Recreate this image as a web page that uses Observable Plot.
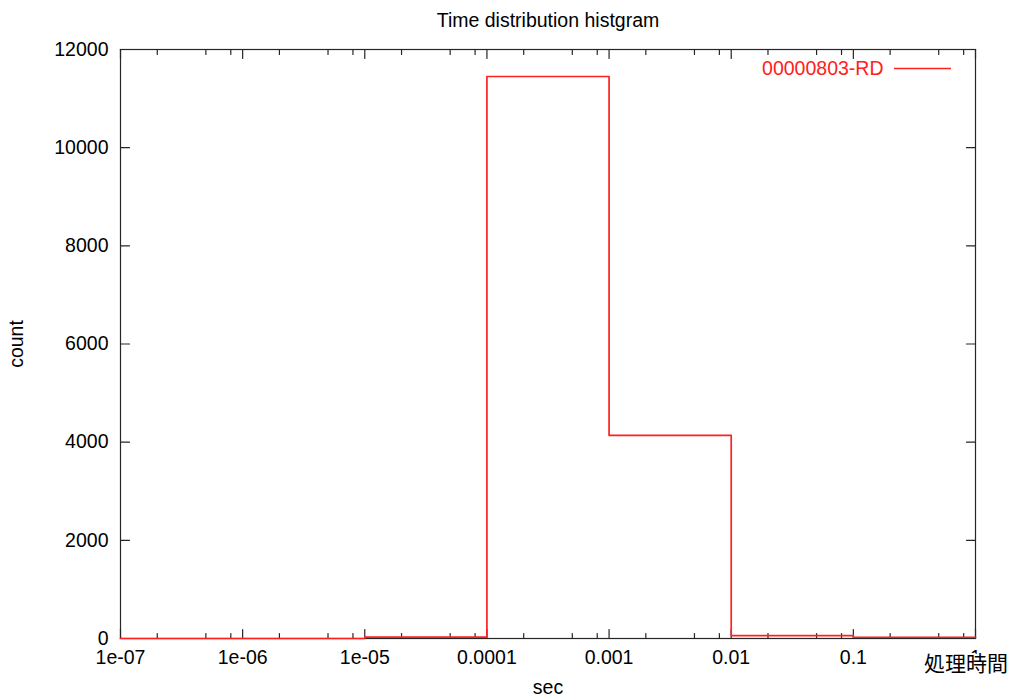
<!DOCTYPE html>
<html>
<head>
<meta charset="utf-8">
<script src="https://cdn.jsdelivr.net/npm/d3@7"></script>
<script src="https://cdn.jsdelivr.net/npm/@observablehq/plot@0.6"></script>
<style>
  html, body { margin: 0; padding: 0; background: #fff; }
  #chart { width: 1010px; height: 698px; }
</style>
</head>
<body>
<div id="chart"></div>
<script>
// ---- data ----
const binEdges = [1e-7, 1e-6, 1e-5, 1e-4, 1e-3, 1e-2, 1e-1, 1];
const binCounts = [0, 0, 30, 11450, 4140, 60, 25];
const seriesName = "00000803-RD";

const xTicks = [1e-7, 1e-6, 1e-5, 1e-4, 1e-3, 1e-2, 1e-1, 1];
const xTickLabels = ["1e-07", "1e-06", "1e-05", "0.0001", "0.001", "0.01", "0.1", "1"];
const xMinorMultipliers = [2, 5, 8];
const yTicks = [0, 2000, 4000, 6000, 8000, 10000, 12000];

const titleText = "Time distribution histgram";
const xLabelText = "sec";
const yLabelText = "count";
const cornerText = "処理時間";

// ---- derived ----
const stepData = binEdges.map((e, i) => ({x: e, y: binCounts[Math.min(i, binCounts.length - 1)]}));
const xMinor = [];
for (let i = 0; i < xTicks.length - 1; i++) for (const m of xMinorMultipliers) xMinor.push(xTicks[i] * m);

const tickShape = {draw(ctx, l) { ctx.moveTo(0, 0); ctx.lineTo(0, -l); }};
const axisColor = "#262626";
const lineRed = "#ff2020";
const FS = 19.5;

function ticks(data, ch, anchor, rot, len) {
  return Plot.vector(data, {[ch]: d => d, frameAnchor: anchor, rotate: rot, length: len,
    anchor: "start", shape: tickShape, stroke: axisColor, strokeWidth: 1.2});
}

const chart = Plot.plot({
  width: 1010,
  height: 698,
  marginLeft: 120,
  marginRight: 35,
  marginTop: 49,
  marginBottom: 60,
  style: {fontFamily: "'Liberation Sans', Arial, sans-serif", fontSize: FS + "px", background: "white", color: "black"},
  x: {type: "log", domain: [1e-7, 1]},
  y: {domain: [0, 12000]},
  marks: [
    Plot.frame({stroke: axisColor, strokeWidth: 1.2}),
    // major / minor ticks, mirrored
    ticks(xTicks, "x", "bottom", 0, 9),
    ticks(xTicks, "x", "top", 180, 9),
    ticks(xMinor, "x", "bottom", 0, 5),
    ticks(xMinor, "x", "top", 180, 5),
    ticks(yTicks, "y", "left", 90, 9),
    ticks(yTicks, "y", "right", -90, 9),
    Plot.axisX({ticks: xTicks, tickSize: 0, tickPadding: 12, label: null, fontSize: FS,
      tickFormat: d => xTickLabels[xTicks.indexOf(d)]}),
    Plot.axisY({ticks: yTicks, tickSize: 0, tickPadding: 12, label: null, fontSize: FS,
      tickFormat: d => String(d)}),
    Plot.line(stepData, {x: "x", y: "y", curve: "step-after", stroke: lineRed, strokeWidth: 1.7}),
    Plot.text([titleText], {frameAnchor: "top", dy: -29, lineAnchor: "middle", textAnchor: "middle", fontSize: FS, fill: "black"}),
    Plot.text([xLabelText], {frameAnchor: "bottom", dy: 49, lineAnchor: "middle", textAnchor: "middle", fontSize: FS, fill: "black"}),
    Plot.text([yLabelText], {frameAnchor: "left", dx: -104, rotate: -90, lineAnchor: "middle", textAnchor: "middle", fontSize: FS, fill: "black"}),
    Plot.text([seriesName], {frameAnchor: "top-right", dx: -92, dy: 19, lineAnchor: "middle", textAnchor: "end", fontSize: FS, fill: lineRed})
  ]
});

// legend sample line and corner caption
const svg = d3.select(chart);
svg.append("line")
  .attr("x1", 894).attr("x2", 951).attr("y1", 68.5).attr("y2", 68.5)
  .attr("stroke", lineRed).attr("stroke-width", 1.7);
svg.append("text")
  .attr("x", 1008).attr("y", 671)
  .attr("text-anchor", "end")
  .attr("font-family", "'Noto Sans CJK JP', sans-serif")
  .attr("font-size", 21)
  .attr("fill", "black")
  .attr("stroke", "white").attr("stroke-width", 4).attr("paint-order", "stroke")
  .text(cornerText);

document.getElementById("chart").appendChild(chart);
</script>
</body>
</html>
